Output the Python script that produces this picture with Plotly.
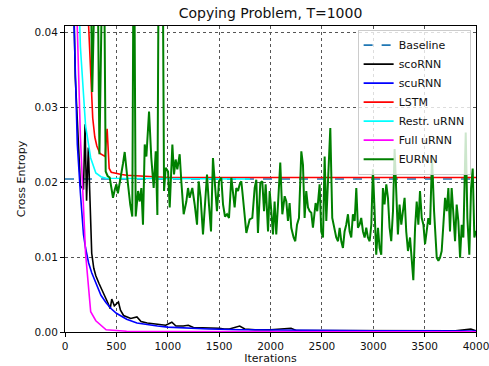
import plotly.graph_objects as go

# ---------------- data ----------------
baseline_x = [0, 4000]
baseline_y = [0.0204, 0.0204]

sco_x = [50, 100, 150, 180, 195, 210, 227, 243, 260, 280, 300, 330, 360, 390, 420, 440, 455, 480,
         520, 540, 570, 600, 640, 700, 740, 800, 860, 920, 980, 1040, 1080, 1150, 1200, 1250, 1350,
         1400, 1500, 1550, 1600, 1700, 1750, 1850, 1950, 2000, 2200, 2250, 2400, 2600, 2800, 3000,
         3200, 3500, 3800, 3950, 4000]
sco_y = [0.07, 0.034, 0.0195, 0.019, 0.0277, 0.0175, 0.0246, 0.0175, 0.0105, 0.0085, 0.0075, 0.0065,
         0.0055, 0.0047, 0.0038, 0.0031, 0.0044, 0.0035, 0.0040, 0.0029, 0.0022, 0.0020, 0.0018,
         0.0020, 0.0014, 0.0012, 0.0011, 0.0010, 0.0009, 0.0013, 0.0008, 0.0008, 0.0009, 0.0006,
         0.0006, 0.0005, 0.0005, 0.0004, 0.0004, 0.0008, 0.0004, 0.0003, 0.0003, 0.0003, 0.0005,
         0.0002, 0.0002, 0.0002, 0.0002, 0.0002, 0.0002, 0.00015, 0.00015, 0.0004, 0.00015]

scu_x = [50, 100, 120, 150, 180, 200, 230, 260, 300, 350, 400, 450, 500, 600, 700, 800, 900, 1000,
         1200, 1400, 1700, 2000, 2500, 3000, 3500, 4000]
scu_y = [0.06, 0.033, 0.025, 0.0185, 0.013, 0.0112, 0.0092, 0.0079, 0.0065, 0.0049, 0.0039, 0.0031,
         0.0025, 0.0017, 0.0012, 0.00095, 0.0008, 0.00065, 0.0005, 0.0004, 0.0003, 0.00025, 0.0002,
         0.00017, 0.00015, 0.00013]

lstm_x = [200, 230, 250, 270, 290, 310, 340, 370, 390, 410, 430, 450, 500, 550, 600, 700, 800,
          1000, 1500, 2000, 2500, 3000, 3500, 4000]
lstm_y = [0.05, 0.040, 0.0335, 0.0285, 0.026, 0.0248, 0.0238, 0.0236, 0.0234, 0.0271, 0.0218,
          0.0213, 0.0211, 0.0210, 0.0209, 0.0208, 0.0207, 0.0206, 0.0206, 0.0206, 0.0206, 0.0206,
          0.0206, 0.0206]

restr_x = [100, 150, 200, 250, 300, 350, 400, 500, 700, 1000, 1300, 1600, 1800]
restr_y = [0.06, 0.038, 0.0275, 0.0232, 0.0212, 0.0207, 0.0205, 0.0205, 0.0204, 0.0204, 0.0204,
           0.0204, 0.0204]

full_x = [100, 150, 200, 250, 300, 400, 500, 600, 1000, 2000, 3000, 4000]
full_y = [0.05, 0.026, 0.0105, 0.0027, 0.0015, 0.0003, 0.0002, 0.0001, 0.00006, 0.00004, 0.00003,
          0.00003]

eu_x = [200, 240, 265, 290, 310, 335, 355, 375, 396, 415, 435, 450, 467, 485, 500, 515, 532, 550,
        565, 581, 597, 613, 635, 655, 670, 688, 711, 727, 743, 759, 776, 792, 818, 840, 863, 883,
        899, 915, 947, 964, 980, 1003, 1019, 1045, 1061, 1077, 1093, 1116, 1132, 1155, 1181, 1197,
        1213, 1239, 1262, 1285, 1301, 1320, 1343, 1369, 1382, 1401, 1421, 1440, 1460, 1479, 1499,
        1521, 1538, 1557, 1577, 1596, 1619, 1635, 1651, 1667, 1684, 1700, 1716, 1732, 1748, 1765,
        1781, 1797, 1823, 1846, 1862, 1878, 1901, 1920, 1937, 1953, 1976, 1992, 2008, 2024, 2040,
        2056, 2073, 2095, 2115, 2138, 2154, 2170, 2186, 2202, 2225, 2241, 2258, 2277, 2300, 2316,
        2332, 2348, 2365, 2381, 2397, 2413, 2439, 2455, 2478, 2494, 2511, 2527, 2543, 2559, 2582,
        2601, 2624, 2640, 2657, 2673, 2689, 2705, 2721, 2737, 2754, 2770, 2786, 2802, 2819, 2835,
        2851, 2867, 2883, 2900, 2916, 2932, 2948, 2965, 2981, 2997, 3013, 3029, 3046, 3062, 3078,
        3094, 3110, 3127, 3143, 3159, 3175, 3192, 3208, 3224, 3240, 3256, 3273, 3289, 3305, 3321,
        3338, 3358, 3374, 3390, 3407, 3423, 3439, 3455, 3472, 3488, 3504, 3520, 3536, 3553, 3572,
        3592, 3608, 3618, 3634, 3650, 3666, 3682, 3699, 3715, 3731, 3747, 3763, 3780, 3796, 3812,
        3828, 3845, 3861, 3877, 3900, 3916, 3935, 3952, 3968, 3984, 4000]
eu_y = [0.08, 0.06, 0.032, 0.06, 0.06, 0.0237, 0.06, 0.06, 0.0214, 0.0208, 0.0206, 0.0195, 0.0179,
        0.0190, 0.0197, 0.0185, 0.0197, 0.0210, 0.0225, 0.0240, 0.0215, 0.0197, 0.0170, 0.0154,
        0.06, 0.0154, 0.0188, 0.0174, 0.0192, 0.0143, 0.0250, 0.0234, 0.0294, 0.0232, 0.0192,
        0.0241, 0.0156, 0.06, 0.06, 0.0188, 0.0219, 0.0214, 0.0166, 0.0250, 0.0210, 0.0230, 0.0217,
        0.0237, 0.0201, 0.0157, 0.0174, 0.0192, 0.0179, 0.0192, 0.0170, 0.0143, 0.0201, 0.0179,
        0.0130, 0.0188, 0.0210, 0.0170, 0.0134, 0.0232, 0.0197, 0.0161, 0.0201, 0.0206, 0.0170,
        0.0154, 0.0157, 0.0152, 0.0206, 0.0183, 0.0166, 0.0192, 0.0188, 0.0197, 0.0201, 0.0179,
        0.0157, 0.0132, 0.0141, 0.0150, 0.0152, 0.0192, 0.0203, 0.0132, 0.0199, 0.0201, 0.0161,
        0.0197, 0.0134, 0.0188, 0.0161, 0.0130, 0.0174, 0.0130, 0.0170, 0.0226, 0.0157, 0.0181,
        0.0174, 0.0148, 0.0172, 0.0139, 0.0126, 0.0121, 0.0143, 0.0152, 0.0241, 0.0223, 0.0152,
        0.0188, 0.0166, 0.0161, 0.0159, 0.0139, 0.0172, 0.0161, 0.0197, 0.0134, 0.0126, 0.0234,
        0.0148, 0.0206, 0.0272, 0.0152, 0.0139, 0.0126, 0.0121, 0.0139, 0.0121, 0.0112, 0.0134,
        0.0143, 0.0157, 0.0134, 0.0126, 0.0157, 0.0148, 0.0192, 0.0139, 0.0143, 0.0152, 0.0134,
        0.0126, 0.0139, 0.0126, 0.0121, 0.0143, 0.0217, 0.0161, 0.0103, 0.0139, 0.0112, 0.0103,
        0.0192, 0.0170, 0.0197, 0.0179, 0.0139, 0.0121, 0.0161, 0.0244, 0.0192, 0.0130, 0.0170,
        0.0143, 0.0161, 0.0179, 0.0134, 0.0108, 0.0126, 0.0099, 0.0069, 0.0139, 0.0174, 0.0143,
        0.0188, 0.0152, 0.0143, 0.0117, 0.0134, 0.0152, 0.0143, 0.0233, 0.0161, 0.0126, 0.0099,
        0.0095, 0.0099, 0.0108, 0.0139, 0.0179, 0.0161, 0.0192, 0.0134, 0.0192, 0.0157, 0.0121,
        0.0170, 0.0148, 0.0099, 0.0143, 0.0126, 0.0266, 0.0152, 0.0103, 0.0192, 0.0218, 0.0126,
        0.0135]

x_ticks = [0, 500, 1000, 1500, 2000, 2500, 3000, 3500, 4000]
y_ticks = [0.00, 0.01, 0.02, 0.03, 0.04]
y_tick_text = ["0.00", "0.01", "0.02", "0.03", "0.04"]

# ---------------- figure ----------------
fig = go.Figure()
LW = 1.6
fig.add_trace(go.Scatter(x=baseline_x, y=baseline_y, mode="lines", name="Baseline",
                         line=dict(color="#1f77b4", width=LW, dash="dash")))
fig.add_trace(go.Scatter(x=sco_x, y=sco_y, mode="lines", name="scoRNN",
                         line=dict(color="black", width=LW)))
fig.add_trace(go.Scatter(x=scu_x, y=scu_y, mode="lines", name="scuRNN",
                         line=dict(color="blue", width=LW)))
fig.add_trace(go.Scatter(x=lstm_x, y=lstm_y, mode="lines", name="LSTM",
                         line=dict(color="red", width=LW)))
fig.add_trace(go.Scatter(x=restr_x, y=restr_y, mode="lines", name="Restr. uRNN",
                         line=dict(color="cyan", width=LW)))
fig.add_trace(go.Scatter(x=full_x, y=full_y, mode="lines", name="Full uRNN",
                         line=dict(color="magenta", width=LW)))
fig.add_trace(go.Scatter(x=eu_x, y=eu_y, mode="lines", name="EURNN",
                         line=dict(color="green", width=2)))

FONT = "DejaVu Sans"
fig.update_layout(
    width=489, height=366,
    margin=dict(l=65, r=13, t=26, b=34, autoexpand=False),
    paper_bgcolor="white", plot_bgcolor="white",
    font=dict(family=FONT, size=10.5, color="#111"),
    title=dict(text="Copying Problem, T=1000", x=0.5, xref="paper", xanchor="center",
               y=1 - 13 / 366, yref="container", yanchor="middle",
               font=dict(family=FONT, size=14, color="#111")),
    showlegend=True,
    legend=dict(x=0.712, y=0.988, xanchor="left", yanchor="top",
                bgcolor="rgba(255,255,255,0.8)", bordercolor="#cccccc", borderwidth=1,
                font=dict(family=FONT, size=11, color="#111"),
                tracegroupgap=0, itemwidth=30),
)
fig.update_xaxes(
    range=[0, 4000], tickvals=x_ticks, ticktext=[str(v) for v in x_ticks],
    showline=True, linecolor="black", linewidth=1, mirror=True,
    ticks="outside", ticklen=4, tickcolor="black", automargin=False,
    ticklabeloverflow="allow",
    tickfont=dict(family=FONT, size=10.5),
    showgrid=True, gridcolor="#555", griddash="dot", gridwidth=0.8, zeroline=False,
    title=dict(text="Iterations", standoff=2, font=dict(family=FONT, size=11)),
)
fig.update_yaxes(
    range=[0, 0.0408], tickvals=y_ticks, ticktext=y_tick_text,
    showline=True, linecolor="black", linewidth=1, mirror=True,
    ticks="outside", ticklen=4, tickcolor="black", automargin=False,
    ticklabeloverflow="allow",
    tickfont=dict(family=FONT, size=10.5),
    showgrid=True, gridcolor="#555", griddash="dot", gridwidth=0.8, zeroline=False,
    title=dict(text="Cross Entropy", standoff=6, font=dict(family=FONT, size=11)),
)

fig.write_html("out.html")
